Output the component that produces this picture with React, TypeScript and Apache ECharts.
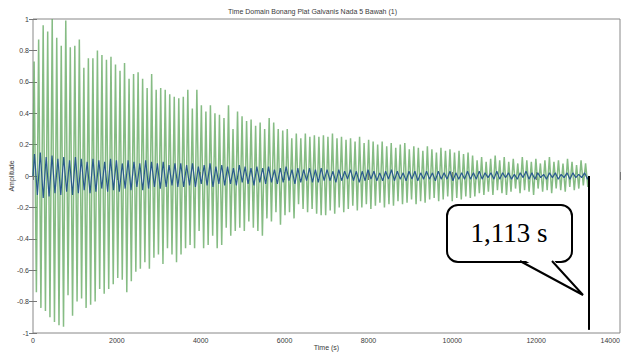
import React, { useEffect, useRef } from "react";
import * as echarts from "echarts";

const titleText = "Time Domain Bonang Plat Galvanis Nada 5 Bawah (1)";
const xTicks = [0, 2000, 4000, 6000, 8000, 10000, 12000, 14000];
const yTicks = [-1, -0.8, -0.6, -0.4, -0.2, 0, 0.2, 0.4, 0.6, 0.8, 1];

// signal end time and cursor
const signalEnd = 13260;
const cursorTop = 0;
const cursorBottom = -0.98;
const calloutText = "1,113 s";

// green signal: positive and negative peak of each cycle
const greenTop = [
  0.73, 0.87, 0.96, 0.92, 1.0, 0.88, 0.83, 0.99, 0.82, 0.83, 0.87, 0.69, 0.75, 0.75, 0.8, 0.77,
  0.74, 0.76, 0.71, 0.67, 0.72, 0.62, 0.65, 0.66, 0.62, 0.56, 0.65, 0.55, 0.56, 0.55, 0.52,
  0.505, 0.495, 0.505, 0.55, 0.43, 0.55, 0.45, 0.41, 0.45, 0.4, 0.39, 0.37, 0.45, 0.3, 0.41, 0.38,
  0.35, 0.36, 0.32, 0.34, 0.3, 0.37, 0.34, 0.3, 0.29, 0.3, 0.24, 0.27, 0.24, 0.27, 0.25, 0.26, 0.25,
  0.26, 0.25, 0.27, 0.24, 0.25, 0.23, 0.24, 0.22, 0.25, 0.21, 0.23, 0.22, 0.2, 0.22, 0.19, 0.21,
  0.18, 0.2, 0.21, 0.17, 0.19, 0.18, 0.16, 0.19, 0.17, 0.15, 0.18, 0.16, 0.17, 0.15, 0.16, 0.14, 0.15,
  0.13, 0.1, 0.12, 0.09, 0.11, 0.13, 0.1, 0.12, 0.09, 0.11, 0.08, 0.12, 0.1, 0.09, 0.11, 0.08,
  0.1, 0.12, 0.09, 0.1, 0.08, 0.11, 0.09, 0.07, 0.1, 0.08,
];
const greenBottom = [
  -0.74, -0.84, -0.86, -0.9, -0.93, -0.95, -0.96, -0.76, -0.89, -0.8, -0.78, -0.84, -0.82, -0.8,
  -0.72, -0.75, -0.72, -0.69, -0.65, -0.66, -0.74, -0.67, -0.61, -0.59, -0.55, -0.59, -0.52, -0.5,
  -0.56, -0.46, -0.5,
  -0.55, -0.5, -0.46, -0.44, -0.46, -0.35, -0.46, -0.44, -0.38, -0.46, -0.44, -0.33, -0.38, -0.35,
  -0.33, -0.35, -0.29, -0.33, -0.35, -0.38, -0.27, -0.29, -0.23, -0.31, -0.25, -0.23, -0.27, -0.18,
  -0.21, -0.23, -0.21, -0.24, -0.25,
  -0.25, -0.22, -0.24, -0.2, -0.23, -0.21, -0.19, -0.22, -0.2, -0.18, -0.21, -0.19, -0.17, -0.2,
  -0.18, -0.19, -0.16, -0.18, -0.17, -0.15, -0.18, -0.16, -0.17, -0.15, -0.14, -0.16, -0.15, -0.13,
  -0.16, -0.14, -0.15, -0.13, -0.14,
  -0.13, -0.11, -0.12, -0.1, -0.12, -0.09, -0.11, -0.12, -0.1, -0.08, -0.11, -0.09, -0.1, -0.12,
  -0.08, -0.1, -0.09, -0.11, -0.08, -0.09, -0.1, -0.07, -0.09, -0.08, -0.06, -0.07,
];

// blue signal: positive and negative peak of each cycle
const blueTop = [
  0.14, 0.15, 0.12, 0.13, 0.11, 0.12, 0.1, 0.12, 0.11, 0.09, 0.11, 0.1, 0.09, 0.11, 0.1, 0.08, 0.1,
  0.09, 0.08, 0.1, 0.09, 0.08, 0.09, 0.07, 0.08,
  0.08, 0.07, 0.08, 0.06, 0.07, 0.08, 0.06, 0.07, 0.06, 0.05, 0.07, 0.06, 0.05, 0.06, 0.05, 0.06,
  0.04, 0.05, 0.06, 0.04, 0.05, 0.04, 0.05, 0.04, 0.05,
  0.04, 0.03, 0.04, 0.03, 0.04, 0.03, 0.03, 0.04, 0.03, 0.02, 0.03, 0.04, 0.03, 0.02, 0.03, 0.03,
  0.02, 0.03, 0.02, 0.03, 0.02, 0.03, 0.02, 0.02, 0.03,
  0.02, 0.03, 0.02, 0.02, 0.03, 0.02, 0.02, 0.01, 0.02, 0.03, 0.02, 0.02, 0.01, 0.02, 0.02, 0.01,
  0.02, 0.02, 0.01, 0.02,
];
const blueBottom = [
  -0.12, -0.14, -0.13, -0.11, -0.12, -0.1, -0.12, -0.11, -0.09, -0.11, -0.1, -0.08, -0.1, -0.09,
  -0.1, -0.08, -0.09, -0.07, -0.09, -0.08, -0.07, -0.08, -0.07, -0.06, -0.07,
  -0.07, -0.06, -0.07, -0.05, -0.06, -0.07, -0.05, -0.06, -0.05, -0.06, -0.04, -0.05, -0.06, -0.04,
  -0.05, -0.04, -0.05, -0.04, -0.03, -0.05, -0.04, -0.03, -0.04, -0.04, -0.03,
  -0.03, -0.04, -0.03, -0.02, -0.03, -0.04, -0.03, -0.02, -0.03, -0.03, -0.02, -0.03, -0.02, -0.03,
  -0.02, -0.03, -0.02, -0.02, -0.03, -0.02, -0.02, -0.03, -0.02, -0.02, -0.02,
  -0.02, -0.02, -0.01, -0.02, -0.02, -0.01, -0.02, -0.02, -0.01, -0.02, -0.02, -0.01, -0.02, -0.01,
  -0.02, -0.01, -0.02, -0.01, -0.01, -0.02,
];

function buildWave(top: number[], bottom: number[], end: number): number[][] {
  const n = Math.min(top.length, bottom.length);
  const period = end / n;
  const pts: number[][] = [[0, 0]];
  for (let i = 0; i < n; i++) {
    pts.push([i * period + period * 0.25, top[i]]);
    pts.push([i * period + period * 0.75, bottom[i]]);
  }
  pts.push([end, 0]);
  return pts;
}

const FONT = "Liberation Sans";
const TEXT_COLOR = "#3a3a3a";

export default function App() {
  const ref = useRef<HTMLDivElement>(null);
  useEffect(() => {
    document.body.style.margin = "0";
    if (!ref.current) return;
    const chart = echarts.init(ref.current, undefined, { renderer: "svg" });
    const tickLabel = { fontSize: 7, color: TEXT_COLOR, fontFamily: FONT };
    chart.setOption({
      animation: false,
      backgroundColor: "#ffffff",
      textStyle: { color: TEXT_COLOR, fontFamily: FONT },
      title: {
        text: titleText,
        left: "center",
        top: 3,
        textStyle: { fontSize: 7, fontWeight: "normal", color: TEXT_COLOR, fontFamily: FONT },
      },
      grid: {
        left: 33,
        right: 5,
        top: 19,
        bottom: 22,
        outerBoundsMode: "none",
        containLabel: false,
        show: true,
        borderColor: "#888",
        borderWidth: 1,
        backgroundColor: "#ffffff",
      },
      xAxis: [
        {
          type: "value",
          min: xTicks[0],
          max: xTicks[xTicks.length - 1],
          interval: 2000,
          name: "Time (s)",
          nameLocation: "middle",
          nameGap: 11,
          nameMoveOverlap: false,
          nameTextStyle: { fontSize: 7, color: TEXT_COLOR, fontFamily: FONT },
          axisLine: { show: false },
          axisTick: { inside: true, length: 4, lineStyle: { color: "#777" } },
          axisLabel: {
            ...tickLabel,
            margin: 4,
            hideOverlap: false,
            alignMaxLabel: "right",
            formatter: (v: number) => String(v),
          },
          splitLine: { show: false },
        },
        {
          type: "value",
          position: "top",
          min: xTicks[0],
          max: xTicks[xTicks.length - 1],
          interval: 2000,
          axisLine: { show: false },
          axisTick: { inside: true, length: 4, lineStyle: { color: "#777" } },
          axisLabel: { show: false },
          splitLine: { show: false },
        },
      ],
      yAxis: [
        {
          type: "value",
          min: yTicks[0],
          max: yTicks[yTicks.length - 1],
          interval: 0.2,
          name: "Amplitude",
          nameLocation: "middle",
          nameRotate: 90,
          nameGap: 18,
          nameMoveOverlap: false,
          nameTextStyle: { fontSize: 7, color: TEXT_COLOR, fontFamily: FONT },
          axisLine: { show: false },
          axisTick: { inside: true, length: 4, lineStyle: { color: "#777" } },
          axisLabel: { ...tickLabel, margin: 4 },
          splitLine: { show: false },
        },
        {
          type: "value",
          position: "right",
          min: yTicks[0],
          max: yTicks[yTicks.length - 1],
          interval: 0.2,
          axisLine: { show: false },
          axisTick: { inside: true, length: 4, lineStyle: { color: "#777" } },
          axisLabel: { show: false },
          splitLine: { show: false },
        },
      ],
      series: [
        {
          type: "line",
          name: "green",
          data: buildWave(greenTop, greenBottom, signalEnd),
          showSymbol: false,
          symbol: "none",
          silent: true,
          lineStyle: { color: "#5da65b", width: 1.5, opacity: 0.75 },
        },
        {
          type: "line",
          name: "blue",
          data: buildWave(blueTop, blueBottom, signalEnd),
          showSymbol: false,
          symbol: "none",
          silent: true,
          lineStyle: { color: "#2a5a8e", width: 1.2 },
        },
        {
          type: "line",
          name: "cursor",
          data: [
            [signalEnd, cursorTop],
            [signalEnd, cursorBottom],
          ],
          showSymbol: false,
          symbol: "none",
          silent: true,
          lineStyle: { color: "#000", width: 2 },
        },
      ],
      graphic: [
        {
          type: "rect",
          shape: { x: 447, y: 205, width: 125, height: 57, r: 11 },
          style: { fill: "#fff", stroke: "#000", lineWidth: 2 },
          z: 100,
        },
        {
          type: "polygon",
          shape: { points: [[521, 258], [583, 295], [552, 258]] },
          style: { fill: "#fff", stroke: "none" },
          z: 101,
        },
        {
          type: "polyline",
          shape: { points: [[520, 261], [583, 295], [552, 261]] },
          style: { stroke: "#000", lineWidth: 2, fill: "none" },
          z: 102,
        },
        {
          type: "text",
          x: 509,
          y: 233,
          style: {
            text: calloutText,
            fontSize: 27,
            fontFamily: "Liberation Serif",
            fill: "#000",
            align: "center",
            verticalAlign: "middle",
          },
          z: 103,
        },
      ],
    });
    return () => chart.dispose();
  }, []);
  return (
    <div
      ref={ref}
      style={{ position: "fixed", left: 0, top: 0, width: 625, height: 355 }}
    />
  );
}
